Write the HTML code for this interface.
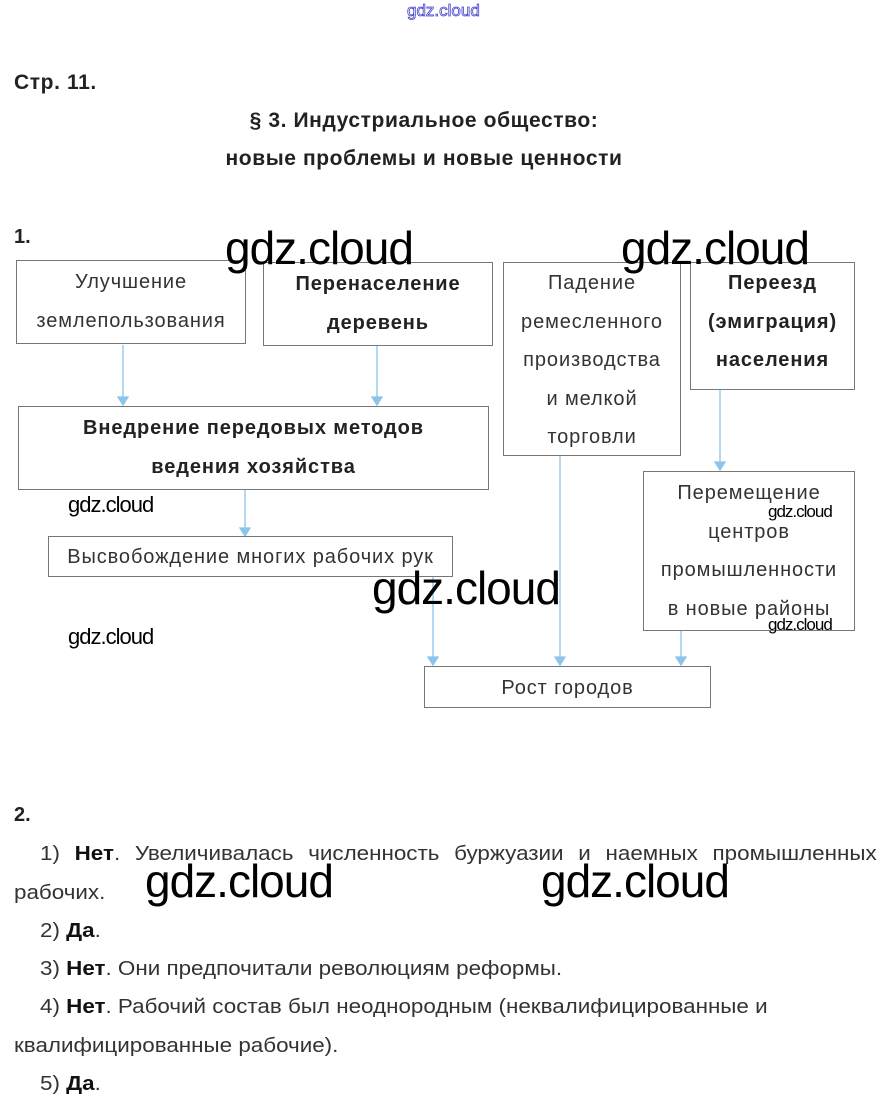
<!DOCTYPE html>
<html><head><meta charset="utf-8"><style>
body{margin:0;width:890px;height:1113px;background:#fff;position:relative;overflow:hidden;font-family:"Liberation Sans",sans-serif;color:#222}
.a{position:absolute;white-space:nowrap}
.box{position:absolute;border:1px solid #777;box-sizing:border-box;text-align:center;font-size:20px;letter-spacing:0.9px;line-height:38.5px;color:#333}
.b{font-weight:bold;color:#222}
.h{font-size:21px;letter-spacing:0.6px}
.wm{position:absolute;font-family:"Liberation Sans",sans-serif;color:#000;white-space:nowrap;letter-spacing:-1px}
.t{position:absolute;font-size:20px;white-space:nowrap;transform-origin:0 0;transform:scaleX(1.12);color:#333}
.t b{color:#111}
</style></head><body>
<div class="a" style="left:407px;top:1px;font-size:17px;color:#fff;-webkit-text-stroke:0.8px #44c">gdz.cloud</div>
<div class="a b h" style="left:14px;top:71px">Стр. 11.</div>
<div class="a b h" style="left:0;width:848px;text-align:center;top:109px">§ 3. Индустриальное общество:</div>
<div class="a b h" style="left:0;width:848px;text-align:center;top:147px">новые проблемы и новые ценности</div>
<div class="a b" style="left:14px;top:226px;font-size:20px">1.</div>

<svg style="position:absolute;left:0;top:0" width="890" height="1113">
<g stroke="#8cc4ec" stroke-width="1.3" fill="#8cc4ec">
<line x1="123" y1="345" x2="123" y2="400"/><path d="M118 397 L128 397 L123 405 Z"/>
<line x1="377" y1="346" x2="377" y2="400"/><path d="M372 397 L382 397 L377 405 Z"/>
<line x1="245" y1="490" x2="245" y2="531"/><path d="M240 528 L250 528 L245 536 Z"/>
<line x1="433" y1="577" x2="433" y2="660"/><path d="M428 657 L438 657 L433 665 Z"/>
<line x1="560" y1="455" x2="560" y2="660"/><path d="M555 657 L565 657 L560 665 Z"/>
<line x1="720" y1="389" x2="720" y2="465"/><path d="M715 462 L725 462 L720 470 Z"/>
<line x1="681" y1="631" x2="681" y2="660"/><path d="M676 657 L686 657 L681 665 Z"/>
</g></svg>

<div class="box" style="left:16px;top:260px;width:230px;height:84px;padding-top:2px">Улучшение<br>землепользования</div>
<div class="box b" style="left:263px;top:262px;width:230px;height:84px;padding-top:2px">Перенаселение<br>деревень</div>
<div class="box" style="left:503px;top:262px;width:178px;height:194px;padding-top:1px">Падение<br>ремесленного<br>производства<br>и мелкой<br>торговли</div>
<div class="box b" style="left:690px;top:262px;width:165px;height:128px;padding-top:1px">Переезд<br>(эмиграция)<br>населения</div>
<div class="box b" style="left:18px;top:406px;width:471px;height:84px;padding-top:2px">Внедрение передовых методов<br>ведения хозяйства</div>
<div class="box" style="left:48px;top:536px;width:405px;height:41px;line-height:40px">Высвобождение многих рабочих рук</div>
<div class="box" style="left:643px;top:471px;width:212px;height:160px;padding-top:2px">Перемещение<br>центров<br>промышленности<br>в новые районы</div>
<div class="box" style="left:424px;top:666px;width:287px;height:42px;line-height:42px">Рост городов</div>

<div class="wm" style="left:225px;top:221px;font-size:46px">gdz.cloud</div>
<div class="wm" style="left:621px;top:221px;font-size:46px">gdz.cloud</div>
<div class="wm" style="left:68px;top:492px;font-size:22px">gdz.cloud</div>
<div class="wm" style="left:68px;top:624px;font-size:22px">gdz.cloud</div>
<div class="wm" style="left:372px;top:561px;font-size:46px">gdz.cloud</div>
<div class="wm" style="left:768px;top:502px;font-size:17px">gdz.cloud</div>
<div class="wm" style="left:768px;top:615px;font-size:17px">gdz.cloud</div>

<div class="a b" style="left:14px;top:804px;font-size:20px">2.</div>
<div class="t" style="left:40px;top:843px;width:747px;text-align:justify;text-align-last:justify">1) <b>Нет</b>. Увеличивалась численность буржуазии и наемных промышленных</div>
<div class="t" style="left:14px;top:882px">рабочих.</div>
<div class="t" style="left:40px;top:920px">2) <b>Да</b>.</div>
<div class="t" style="left:40px;top:958px">3) <b>Нет</b>. Они предпочитали революциям реформы.</div>
<div class="t" style="left:40px;top:996px">4) <b>Нет</b>. Рабочий состав был неоднородным (неквалифицированные и</div>
<div class="t" style="left:14px;top:1035px">квалифицированные рабочие).</div>
<div class="t" style="left:40px;top:1073px">5) <b>Да</b>.</div>
<div class="wm" style="left:145px;top:854px;font-size:46px">gdz.cloud</div>
<div class="wm" style="left:541px;top:854px;font-size:46px">gdz.cloud</div>
</body></html>
